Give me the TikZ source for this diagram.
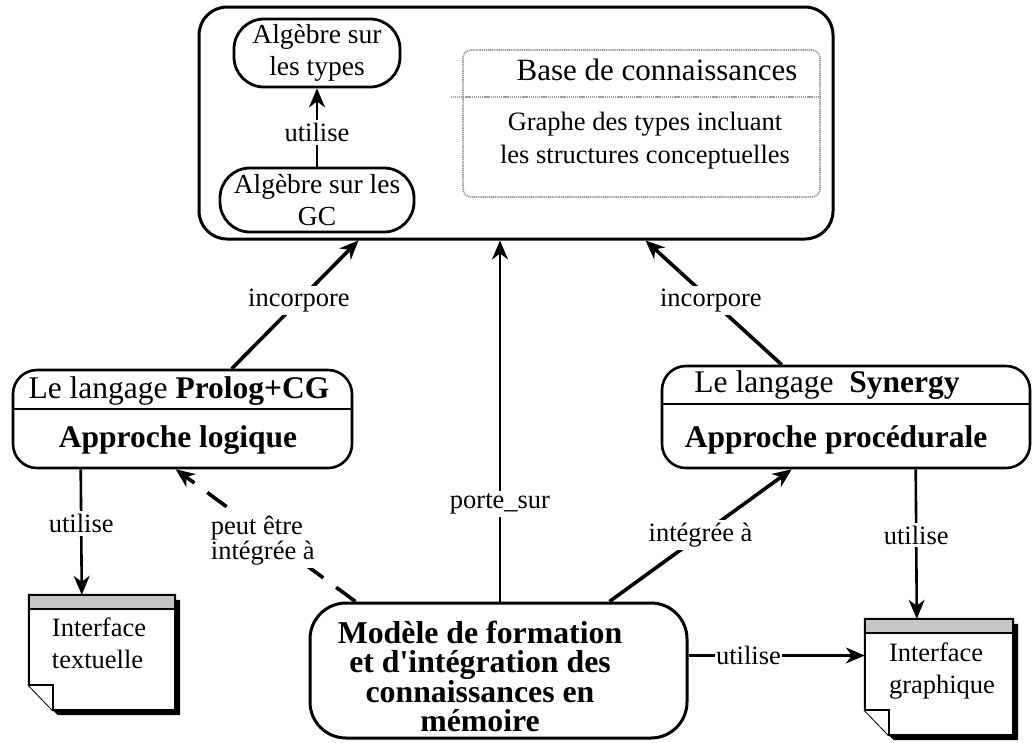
\documentclass[tikz,border=0pt]{standalone}
\usepackage{fontspec}
\setmainfont{Liberation Serif}
\usetikzlibrary{arrows.meta,calc}

% note sheet with drop shadow, grey header band and folded lower-left corner
\newcommand\notesheet[1]{%
  \fill[black] ([shift={(5pt,-5pt)}]#1.north west) -- ([shift={(5pt,-5pt)}]#1.north east)
    -- ([shift={(5pt,-5pt)}]#1.south east) -- ([shift={(29pt,-5pt)}]#1.south west)
    -- ([shift={(5pt,20pt)}]#1.south west) -- cycle;
  \filldraw[fill=white, line width=2pt] (#1.north west) -- (#1.north east) -- (#1.south east)
    -- ([xshift=24pt]#1.south west) -- ([yshift=25pt]#1.south west) -- cycle;
  \filldraw[fill=gray!45, line width=2pt] (#1.north west) rectangle ([yshift=-14pt]#1.north east);
  \draw[line width=1.6pt, fill=white] ([yshift=25pt]#1.south west) -- ([shift={(24pt,25pt)}]#1.south west)
    -- ([xshift=24pt]#1.south west);
}

\begin{document}
\begin{tikzpicture}[x=1pt,y=-1pt,
  frame/.style={draw, line width=3pt, rounded corners=28pt, inner sep=0pt},
  pill/.style={draw, line width=2.8pt, rounded corners=30pt, align=center, inner sep=0pt,
    font=\fontsize{27.5}{32}\selectfont},
  kbbox/.style={draw=gray!75, line width=1.6pt, dash pattern=on 1.2pt off 0.7pt, rounded corners=8pt, inner sep=0pt},
  kbline/.style={draw=gray!75, line width=1.6pt, dash pattern=on 1.2pt off 0.7pt},
  langbox/.style={draw, line width=2.6pt, rounded corners=24pt, inner sep=0pt},
  divider/.style={line width=2.4pt},
  modelbox/.style={draw, line width=3pt, rounded corners=36pt, inner sep=0pt},
  sheet/.style={inner sep=0pt},
  txt/.style={font=\fontsize{26.5}{32}\selectfont, inner sep=0pt},
  bigtxt/.style={font=\fontsize{31.5}{36}\selectfont, inner sep=0pt},
  lbl/.style={fill=white, inner sep=3pt, font=\fontsize{26.5}{24}\selectfont},
  arr/.style={-{Stealth[length=19pt,width=16pt,inset=6pt]}, line width=3.2pt},
]
\useasboundingbox (0,0) rectangle (1032,742);

% knowledge frame at the top
\node[frame, minimum width=634pt, minimum height=232pt] (top) at (516,123) {};
\node[pill, minimum width=166pt, minimum height=68pt] (types) at (317,53) {Algèbre sur\\les types};
\node[pill, minimum width=194pt, minimum height=64pt] (gc) at (317,200) {Algèbre sur les\\GC};
\draw[arr, line width=2.6pt] (gc) -- node[lbl, pos=0.44] {utilise} (types);

\node[kbbox, minimum width=357pt, minimum height=147pt] (kb) at (641.5,123.5) {};
\draw[kbline] ([shift={(-11pt,-48pt)}]kb.north west) -- ([yshift=-48pt]kb.north east);
\node[font=\fontsize{31}{36}\selectfont, inner sep=0pt] (kbtitle) at (657,70) {Base de connaissances};
\node[txt, align=center, font=\fontsize{26.5}{33}\selectfont] (kbbody) at (645,141)
  {Graphe des types incluant\\les structures conceptuelles};

% the two languages
\node[langbox, minimum width=339pt, minimum height=98pt] (prolog) at (182.5,419) {};
\draw[divider] ([yshift=-40pt]prolog.north west) -- ([yshift=-40pt]prolog.north east);
\node[bigtxt] (prologname) at (179,391) {Le langage \textbf{Prolog+CG}};
\node[bigtxt] (prologkind) at (178,440) {\textbf{Approche logique}};

\node[langbox, minimum width=368pt, minimum height=102pt] (synergy) at (846,417) {};
\draw[divider] ([yshift=-39pt]synergy.north west) -- ([yshift=-39pt]synergy.north east);
\node[bigtxt] (synname) at (827,385) {Le langage\ \ \textbf{Synergy}};
\node[bigtxt] (synkind) at (836,440) {\textbf{Approche procédurale}};

% central model
\node[modelbox, minimum width=377pt, minimum height=135pt] (model) at (498.5,670.5) {};
\node[align=center, inner sep=0pt, font=\fontsize{31.8}{29}\selectfont\bfseries] (modeltext) at (480,676)
  {Modèle de formation\\et d\textquotesingle intégration des\\connaissances en\\mémoire};

% interfaces
\node[sheet, minimum width=146pt, minimum height=115pt] (tnote) at (102,652.5) {};
\notesheet{tnote}
\node[txt, align=left] (tnotetext) at (99,643) {Interface\\textuelle};

\node[sheet, minimum width=148pt, minimum height=116pt] (gnote) at (939,677) {};
\notesheet{gnote}
\node[txt, align=left] (gnotetext) at (942,671) {Interface\\graphique};

% connectors
\draw[arr, line width=3.6pt] ([xshift=220pt]prolog.north west) -- node[lbl, pos=0.53] {incorpore} ([xshift=161pt]top.south west);
\draw[arr, line width=3.6pt] ([xshift=121pt]synergy.north west) -- node[lbl, pos=0.52] {incorpore} ([xshift=448pt]top.south west);
\draw[arr, line width=2.4pt] ([xshift=1.5pt]model.north) -- node[lbl, pos=0.27] {porte\_sur} ([xshift=1.5pt]model.north |- top.south);
\draw[arr, line width=3.6pt] ([xshift=-79pt]model.north east) -- node[lbl, pos=0.5] {intégrée à} ([xshift=131pt]synergy.south west);
\draw[arr, line width=3.6pt, dash pattern=on 24pt off 16pt] ([xshift=47pt]model.north west)
  -- node[lbl, pos=0.46, xshift=-10pt, align=left] {peut être\\intégrée à} ([xshift=164pt]prolog.south west);
\draw[arr, line width=2.6pt] ([xshift=69pt]prolog.south west) -- node[lbl, pos=0.43] {utilise} ([xshift=53pt]tnote.north west);
\draw[arr, line width=2.6pt] ([xshift=255pt]synergy.south west) -- node[lbl, pos=0.44] {utilise} ([xshift=52pt]gnote.north west);
\draw[arr, line width=2.4pt] ([yshift=15pt]model.east) -- node[lbl, pos=0.34, inner sep=1pt] {utilise} ([yshift=15pt]model.east -| gnote.west);
\end{tikzpicture}
\end{document}
